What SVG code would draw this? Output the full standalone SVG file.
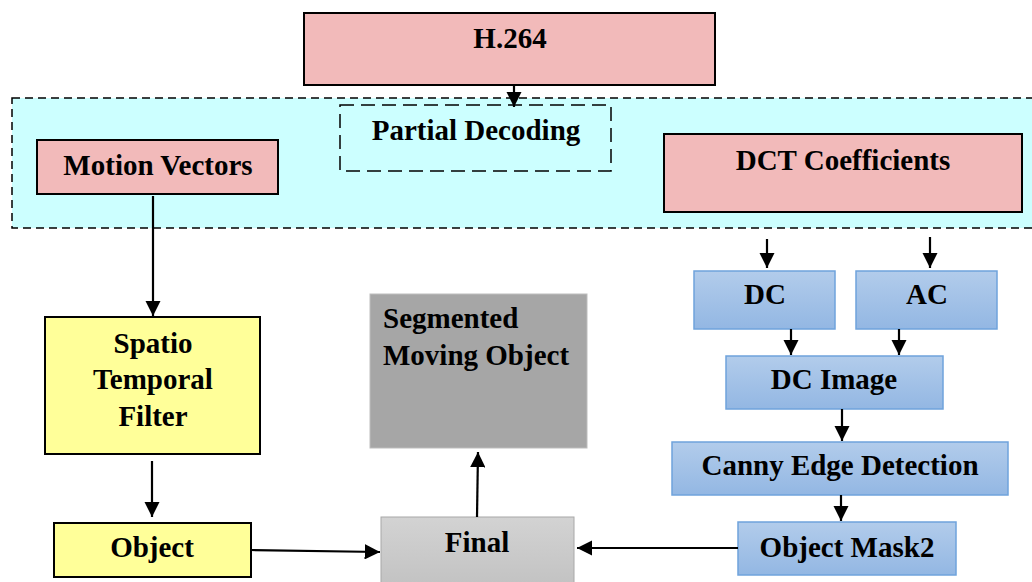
<svg xmlns="http://www.w3.org/2000/svg" width="1032" height="582" viewBox="0 0 1032 582">
<style>
text{font-family:"Liberation Serif","Times New Roman",serif;font-weight:bold;font-size:29px;fill:#000}
.c{text-anchor:middle}
.pink{fill:#F2BABA;stroke:#000;stroke-width:2}
.yel{fill:#FFFF99;stroke:#000;stroke-width:2}
.blue{fill:url(#gb);stroke:#6FA3DC;stroke-width:1.5}
.conn{stroke:#000;stroke-width:2.2;fill:none;marker-end:url(#ah)}
</style>
<defs>
<linearGradient id="gb" x1="0" y1="0" x2="0" y2="1">
<stop offset="0" stop-color="#B2CCEB"/>
<stop offset="1" stop-color="#93B7E3"/>
</linearGradient>
<linearGradient id="gg" x1="0" y1="0" x2="0" y2="1">
<stop offset="0" stop-color="#D3D3D3"/>
<stop offset="1" stop-color="#C2C2C2"/>
</linearGradient>
<marker id="ah" viewBox="0 0 10 10" refX="10" refY="5" markerWidth="7" markerHeight="7" markerUnits="strokeWidth" orient="auto">
<path d="M0,0 L10,5 L0,10 z" fill="#000"/>
</marker>
</defs>
<g id="region">
<rect x="12" y="98" width="1030" height="130" fill="#CCFFFF" stroke="#000" stroke-width="1.5" stroke-dasharray="8,5"/>
</g>
<g id="h264">
<rect class="pink" x="304" y="13" width="411" height="72"/>
<text class="c" x="510" y="48">H.264</text>
</g>
<g id="partial">
<rect x="340" y="105" width="271" height="66" fill="none" stroke="#000" stroke-width="1.5" stroke-dasharray="14,7"/>
<text class="c" x="476" y="140">Partial Decoding</text>
</g>
<g id="mv">
<rect class="pink" x="37" y="140" width="241" height="54"/>
<text class="c" x="158" y="175">Motion Vectors</text>
</g>
<g id="dct">
<rect class="pink" x="664" y="134" width="358" height="78"/>
<text class="c" x="843" y="170">DCT Coefficients</text>
</g>
<g id="stf">
<rect class="yel" x="45" y="317" width="215" height="137"/>
<text class="c" x="153" y="353">Spatio</text>
<text class="c" x="153" y="389">Temporal</text>
<text class="c" x="153" y="426">Filter</text>
</g>
<g id="object">
<rect class="yel" x="54" y="523" width="197" height="54"/>
<text class="c" x="152" y="557">Object</text>
</g>
<g id="segmented">
<rect x="370" y="294" width="217" height="154" fill="#A6A6A6" stroke="#BDBDBD" stroke-width="1"/>
<text x="383" y="328">Segmented</text>
<text x="383" y="365">Moving Object</text>
</g>
<g id="final">
<rect x="381" y="517" width="193" height="70" fill="url(#gg)" stroke="#A8A8A8" stroke-width="1"/>
<text class="c" x="477" y="552">Final</text>
</g>
<g id="dc">
<rect class="blue" x="694" y="271" width="141" height="58"/>
<text class="c" x="765" y="304">DC</text>
</g>
<g id="ac">
<rect class="blue" x="856" y="271" width="141" height="58"/>
<text class="c" x="927" y="304">AC</text>
</g>
<g id="dcimage">
<rect class="blue" x="726" y="356" width="217" height="53"/>
<text class="c" x="834" y="389">DC Image</text>
</g>
<g id="canny">
<rect class="blue" x="672" y="442" width="336" height="53"/>
<text class="c" x="840" y="475">Canny Edge Detection</text>
</g>
<g id="mask2">
<rect class="blue" x="738" y="522" width="218" height="53"/>
<text class="c" x="847" y="557">Object Mask2</text>
</g>
<g id="connectors">
<line class="conn" x1="514" y1="85" x2="514" y2="107"/>
<line class="conn" x1="153" y1="196" x2="153" y2="316"/>
<line class="conn" x1="152" y1="461" x2="152" y2="517"/>
<line class="conn" x1="251" y1="550" x2="380" y2="552"/>
<line class="conn" x1="477" y1="517" x2="478" y2="452"/>
<line class="conn" x1="738" y1="548" x2="577" y2="548"/>
<line class="conn" x1="767" y1="239" x2="767" y2="268"/>
<line class="conn" x1="930" y1="237" x2="930" y2="268"/>
<line class="conn" x1="791" y1="329" x2="791" y2="355"/>
<line class="conn" x1="899" y1="329" x2="899" y2="355"/>
<line class="conn" x1="842" y1="409" x2="842" y2="441"/>
<line class="conn" x1="841" y1="495" x2="841" y2="521"/>
</g>
</svg>
